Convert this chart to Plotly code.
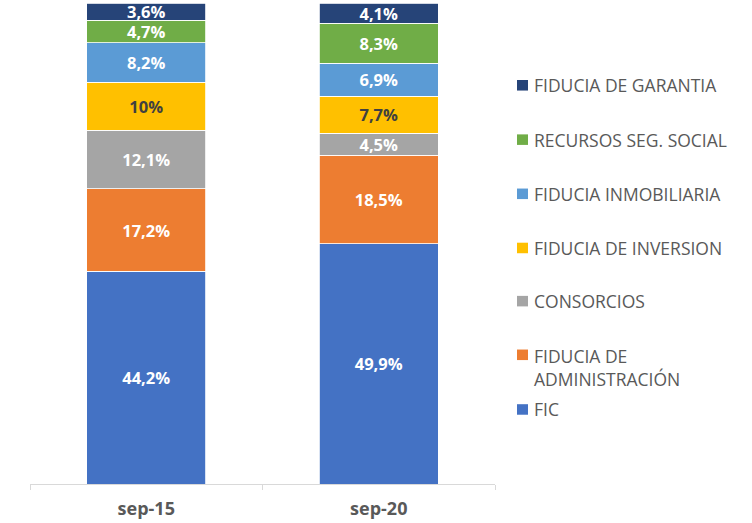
import plotly.graph_objects as go

categories = ["sep-15", "sep-20"]
series_names = ["FIC", "FIDUCIA DE<br>ADMINISTRACIÓN", "CONSORCIOS", "FIDUCIA DE INVERSION",
                "FIDUCIA INMOBILIARIA", "RECURSOS SEG. SOCIAL", "FIDUCIA DE GARANTIA"]
fic = [44.2, 49.9]
fid_admin = [17.2, 18.5]
consorcios = [12.1, 4.5]
fid_inversion = [10.0, 7.7]
fid_inmobiliaria = [8.2, 6.9]
recursos_ss = [4.7, 8.3]
fid_garantia = [3.6, 4.1]

values = [fic, fid_admin, consorcios, fid_inversion, fid_inmobiliaria, recursos_ss, fid_garantia]
colors = ["#4472C4", "#ED7D31", "#A5A5A5", "#FFC000", "#5B9BD5", "#70AD47", "#264478"]
text_colors = ["white", "white", "white", "#404040", "white", "white", "white"]


def fmt(v):
    s = f"{v:.1f}"
    if s.endswith(".0"):
        s = s[:-2]
    return s.replace(".", ",") + "%"


W, H = 752, 523
ml, mr, mt, mb = 30, 257, 3, 36
pw, ph = W - ml - mr, H - mt - mb


def px_x(x):
    return (x - ml) / pw


def px_y(y):
    return (H - mb - y) / ph


fig = go.Figure()
for name, vals, col, tcol in zip(series_names, values, colors, text_colors):
    fig.add_trace(go.Bar(
        x=categories, y=vals, name=name,
        marker=dict(color=col, line=dict(color="white", width=0.8)),
        text=[fmt(v) for v in vals], textposition="inside", insidetextanchor="middle",
        textangle=0, constraintext="none",
        textfont=dict(family="Open Sans", size=16.5, color=tcol, weight="bold"),
        showlegend=False, hoverinfo="skip",
    ))

# Custom legend (reverse order, right side)
legend_y_px = [412, 357, 303, 249.5, 195, 140.5, 85.8]
for name, col, ypx in zip(series_names, colors, legend_y_px):
    fig.add_shape(type="rect", xref="paper", yref="paper",
                  x0=px_x(517), x1=px_x(528), y0=px_y(ypx + 5.3), y1=px_y(ypx - 5.3),
                  fillcolor=col, line=dict(width=0))
    two_line = "<br>" in name
    fig.add_annotation(xref="paper", yref="paper", x=px_x(532), y=px_y(ypx - 12.5 if two_line else ypx),
                       text=name, showarrow=False, xanchor="left",
                       yanchor="top" if two_line else "middle", align="left",
                       font=dict(family="Open Sans", size=17.5, color="#595959"))

fig.update_layout(
    width=W, height=H, barmode="stack", bargap=0.49,
    margin=dict(l=ml, r=mr, t=mt, b=mb),
    plot_bgcolor="white", paper_bgcolor="white",
    xaxis=dict(showline=True, linecolor="#D9D9D9", linewidth=1, ticks="outside",
               tickson="boundaries", ticklen=5, tickcolor="#D9D9D9", ticklabelstandoff=8,
               tickfont=dict(family="Open Sans", size=18, color="#595959", weight="bold")),
    yaxis=dict(range=[0, 100], visible=False, showgrid=False),
)
fig.write_html("out.html", config={"displayModeBar": False},
               post_script="document.body.style.margin='0';")
